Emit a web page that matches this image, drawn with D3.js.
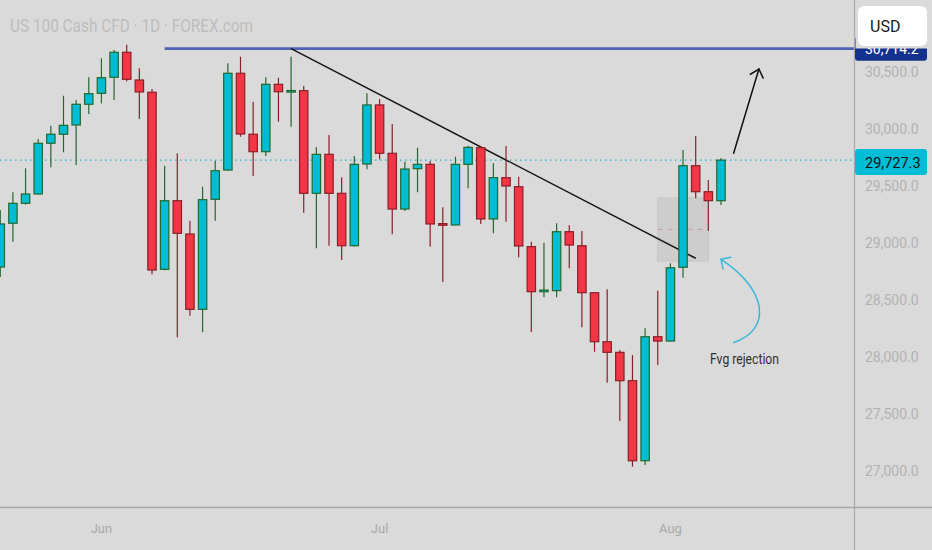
<!DOCTYPE html>
<html><head><meta charset="utf-8">
<script src="https://cdn.jsdelivr.net/npm/d3@7"></script>
<style>html,body{margin:0;padding:0;background:#dadada;overflow:hidden}svg{display:block}</style>
</head><body>
<svg id="c" width="932" height="550"></svg>
<script>
// ---------- data ----------
const dates = ["2026-05-20","2026-05-21","2026-05-22","2026-05-25","2026-05-26","2026-05-27","2026-05-28","2026-05-29",
"2026-06-01","2026-06-02","2026-06-03","2026-06-04","2026-06-05","2026-06-08","2026-06-09","2026-06-10","2026-06-11","2026-06-12",
"2026-06-15","2026-06-16","2026-06-17","2026-06-18","2026-06-19","2026-06-22","2026-06-23","2026-06-24","2026-06-25","2026-06-26",
"2026-06-29","2026-06-30","2026-07-01","2026-07-02","2026-07-03","2026-07-06","2026-07-07","2026-07-08","2026-07-09","2026-07-10",
"2026-07-13","2026-07-14","2026-07-15","2026-07-16","2026-07-17","2026-07-20","2026-07-21","2026-07-22","2026-07-23","2026-07-24",
"2026-07-27","2026-07-28","2026-07-29","2026-07-30","2026-07-31","2026-08-03","2026-08-04","2026-08-05","2026-08-06","2026-08-07"];
const opens  = [28789,29173,29348,29430,29875,29954,30035,30217,30313,30454,30673,30430,30322,28769,29371,29079,28418,29383,29640,30489,
29954,29801,30392,30328,30336,29436,29778,29436,28976,29693,30211,29787,29298,29652,29690,29166,29158,29690,29836,29211,
29573,29494,28968,28578,28582,29099,28976,28564,28134,28041,27792,27090,28178,28140,28787,29678,29450,29371];
const highs  = [29289,29445,29655,29912,30029,30292,30254,30454,30620,30693,30739,30532,30351,29678,29787,29196,29494,29722,30576,30634,
30239,30454,30450,30634,30377,29839,29947,29576,29763,30313,30263,30044,29713,29836,29719,29313,29757,29854,29851,29699,
29851,29582,29011,29003,29173,29155,29105,28568,28594,28061,28017,28252,28582,28822,29816,29939,29553,29743];
const lows   = [28702,29011,29336,29425,29664,29796,29684,30132,30225,30254,30418,30088,28725,28760,28173,28362,28217,29196,29635,29932,
29588,29763,30064,30020,29266,28953,28976,28851,28970,29646,29734,29076,29281,29445,28967,28658,29155,29480,29167,29085,
29187,28875,28219,28524,28524,28778,28261,28046,27775,27439,27038,27053,27930,28135,28696,29392,29105,29333];
const closes = [29167,29348,29430,29875,29954,30032,30217,30310,30450,30673,30436,30325,28763,29371,29085,28418,29380,29634,30489,29956,
29801,30392,30327,30333,29436,29778,29436,28976,29690,30211,29787,29298,29649,29690,29167,29160,29690,29839,29211,29573,
29500,28974,28573,28582,29099,28982,28564,28134,28041,27792,27090,28178,28140,28783,29678,29450,29371,29727.3];
const priceTicks = [27000,27500,28000,28500,29000,29500,30000,30500];
const lastPrice = 29727.3;
const resistancePrice = 30705;
const resistanceLabel = "30,714.2";
const resistanceStart = "2026-06-08";
const trendStart = ["2026-06-22", 30705];
const trendEnd   = ["2026-08-05", 28866];
const fvgFrom = "2026-07-31", fvgTo = "2026-08-06";
const fvgTop = 29395, fvgBottom = 28842, fvgMid = 29120;
// annotation arrows: [bar slot, price]
const upArrow = [[58, 29787], [60, 30526]];
const cyanCurve = [[57.97, 28125], [61.03, 28237], [60.72, 28588], [57.0, 28857]];
const titleText = "US 100 Cash CFD · 1D · FOREX.com";
const noteText = "Fvg rejection";
const currency = "USD";

// ---------- layout ----------
const W = 932, H = 550, plotR = 854, plotB = 507;
const svg = d3.select("#c");
const parse = d3.timeParse("%Y-%m-%d");
const x = d3.scaleBand().domain(dates).range([-6.05, -6.05 + 12.644 * dates.length]).padding(0);
const bw = x.bandwidth();
const cx = d => x(d) + bw / 2;
const slot = i => x.range()[0] + x.step() * (i + 0.5);
const y = d3.scaleLinear().domain([27000, 30000]).range([471, 129]);
const fmt = d3.format(",.1f");

svg.append("rect").attr("width", W).attr("height", H).attr("fill", "#dadada");
const defs = svg.append("defs");
defs.append("clipPath").attr("id", "plot").append("rect").attr("x", 0).attr("y", 0).attr("width", plotR).attr("height", plotB);
const g = svg.append("g").attr("clip-path", "url(#plot)");

// FVG box
g.append("rect").attr("x", cx(fvgFrom)).attr("y", y(fvgTop))
  .attr("width", cx(fvgTo) - cx(fvgFrom)).attr("height", y(fvgBottom) - y(fvgTop))
  .attr("fill", "#cdcdcd").attr("stroke", "#c6c6c6").attr("stroke-width", 1);
g.append("line").attr("x1", cx(fvgFrom)).attr("x2", cx(fvgTo)).attr("y1", y(fvgMid)).attr("y2", y(fvgMid))
  .attr("stroke", "#c9a2a2").attr("stroke-width", 1.3).attr("stroke-dasharray", "5,5");

// last price dotted line
g.append("line").attr("x1", 0).attr("x2", plotR).attr("y1", y(lastPrice)).attr("y2", y(lastPrice))
  .attr("stroke", "#1ab6cf").attr("stroke-width", 1.3).attr("stroke-dasharray", "1.5,3.5");

// resistance line
g.append("line").attr("x1", cx(resistanceStart)).attr("x2", plotR).attr("y1", y(resistancePrice)).attr("y2", y(resistancePrice))
  .attr("stroke", "#4f64b4").attr("stroke-width", 2.6);

// trendline
g.append("line").attr("x1", cx(trendStart[0])).attr("y1", y(trendStart[1]))
  .attr("x2", cx(trendEnd[0])).attr("y2", y(trendEnd[1]))
  .attr("stroke", "#151515").attr("stroke-width", 1.5);

// candles
const candles = dates.map((d, i) => ({d, o: opens[i], h: highs[i], l: lows[i], c: closes[i]}));
const upFill = "#00bcd4", upLine = "#23692f", dnFill = "#f23645", dnLine = "#8a1f28";
const cg = g.append("g").selectAll("g").data(candles).join("g");
cg.append("line").attr("x1", d => cx(d.d)).attr("x2", d => cx(d.d))
  .attr("y1", d => y(d.h)).attr("y2", d => y(d.l))
  .attr("stroke", d => d.c >= d.o ? upLine : dnLine).attr("stroke-width", 1.2);
const bodyW = 8.4;
cg.append("rect").attr("x", d => cx(d.d) - bodyW / 2)
  .attr("y", d => { const t = y(Math.max(d.o, d.c)), b = y(Math.min(d.o, d.c)); return b - t < 1.6 ? (t + b) / 2 - 0.8 : t; })
  .attr("width", bodyW)
  .attr("height", d => Math.max(1.6, y(Math.min(d.o, d.c)) - y(Math.max(d.o, d.c))))
  .attr("fill", d => d.c >= d.o ? upFill : dnFill)
  .attr("stroke", d => d.c >= d.o ? upLine : dnLine).attr("stroke-width", 1.2);

// black arrow
function arrowHead(sel, x0, y0, x1, y1, len, ang, color, w) {
  const a = Math.atan2(y0 - y1, x0 - x1);
  [ang, -ang].forEach(k => {
    sel.append("line").attr("x1", x1).attr("y1", y1)
      .attr("x2", x1 + len * Math.cos(a + k)).attr("y2", y1 + len * Math.sin(a + k))
      .attr("stroke", color).attr("stroke-width", w).attr("stroke-linecap", "round");
  });
}
const ax0 = slot(upArrow[0][0]), ay0 = y(upArrow[0][1]), ax1 = slot(upArrow[1][0]), ay1 = y(upArrow[1][1]);
g.append("line").attr("x1", ax0).attr("y1", ay0).attr("x2", ax1).attr("y2", ay1)
  .attr("stroke", "#111").attr("stroke-width", 1.5).attr("stroke-linecap", "round");
arrowHead(g, ax0, ay0, ax1, ay1, 10, 0.73, "#111", 1.5);

// cyan curved arrow
const cp = cyanCurve.map(p => [slot(p[0]), y(p[1])]);
const path = d3.path();
path.moveTo(cp[0][0], cp[0][1]);
path.bezierCurveTo(cp[1][0], cp[1][1], cp[2][0], cp[2][1], cp[3][0], cp[3][1]);
g.append("path").attr("d", path.toString()).attr("fill", "none").attr("stroke", "#3ab8d8").attr("stroke-width", 1.5);
arrowHead(g, cp[2][0], cp[2][1], cp[3][0], cp[3][1], 10, 0.78, "#3ab8d8", 1.5);

// note text
g.append("text").attr("x", 710).attr("y", 364).text(noteText)
  .attr("font-family", "Roboto, sans-serif").attr("font-size", 14).attr("fill", "#2f2f2f")
  .attr("textLength", 69).attr("lengthAdjust", "spacingAndGlyphs");

// title
svg.append("text").attr("x", 10).attr("y", 32).text(titleText)
  .attr("font-family", "Roboto, sans-serif").attr("font-size", 18).attr("fill", "#bdbdbd")
  .attr("textLength", 243).attr("lengthAdjust", "spacingAndGlyphs");

// separators
svg.append("line").attr("x1", plotR + 0.5).attr("x2", plotR + 0.5).attr("y1", 0).attr("y2", H).attr("stroke", "#a9a9a9").attr("stroke-width", 1.2);
svg.append("line").attr("x1", 0).attr("x2", W).attr("y1", plotB + 0.5).attr("y2", plotB + 0.5).attr("stroke", "#a9a9a9").attr("stroke-width", 1.5);

// y axis labels
const yAxis = d3.axisRight(y).tickValues(priceTicks).tickFormat(fmt).tickSize(0).tickPadding(0);
const ya = svg.append("g").attr("transform", `translate(${865},0)`).call(yAxis);
ya.select(".domain").remove();
ya.selectAll("text").attr("font-family", "Roboto, sans-serif").attr("font-size", 14).attr("fill", "#b2b2b2").attr("x", 0);

// x axis labels (first bar of each month)
const monthFirst = dates.filter((d, i) => i > 0 && d.slice(5, 7) !== dates[i - 1].slice(5, 7));
const xAxis = d3.axisBottom(x).tickValues(monthFirst).tickFormat(d => d3.timeFormat("%b")(parse(d))).tickSize(0).tickPadding(0);
const xa = svg.append("g").attr("transform", `translate(0,${524})`).call(xAxis);
xa.select(".domain").remove();
xa.selectAll("text").attr("font-family", "Roboto, sans-serif").attr("font-size", 13).attr("fill", "#a9a9a9");

// resistance price label
svg.append("rect").attr("x", 855).attr("y", y(resistancePrice) - 12).attr("width", 72).attr("height", 24).attr("rx", 3).attr("fill", "#15318e");
svg.append("text").attr("x", 865).attr("y", y(resistancePrice) + 5.5).text(resistanceLabel)
  .attr("font-family", "Roboto, sans-serif").attr("font-size", 14).attr("fill", "#ffffff");

// last price label
svg.append("rect").attr("x", 855).attr("y", y(lastPrice) - 11).attr("width", 72).attr("height", 26).attr("rx", 3).attr("fill", "#00bcd4");
svg.append("text").attr("x", 865).attr("y", y(lastPrice) + 8).text(fmt(lastPrice))
  .attr("font-family", "Roboto, sans-serif").attr("font-size", 14.5).attr("fill", "#111");

// currency box
svg.append("rect").attr("x", 855.5).attr("y", 0).attr("width", 77).attr("height", 48.5).attr("fill", "#dadada");
svg.append("rect").attr("x", 858).attr("y", 6).attr("width", 69).attr("height", 40).attr("rx", 6).attr("fill", "#ffffff");
svg.append("text").attr("x", 870).attr("y", 32).text(currency)
  .attr("font-family", "Roboto, sans-serif").attr("font-size", 16).attr("fill", "#1a1a1a");
</script>
</body></html>
